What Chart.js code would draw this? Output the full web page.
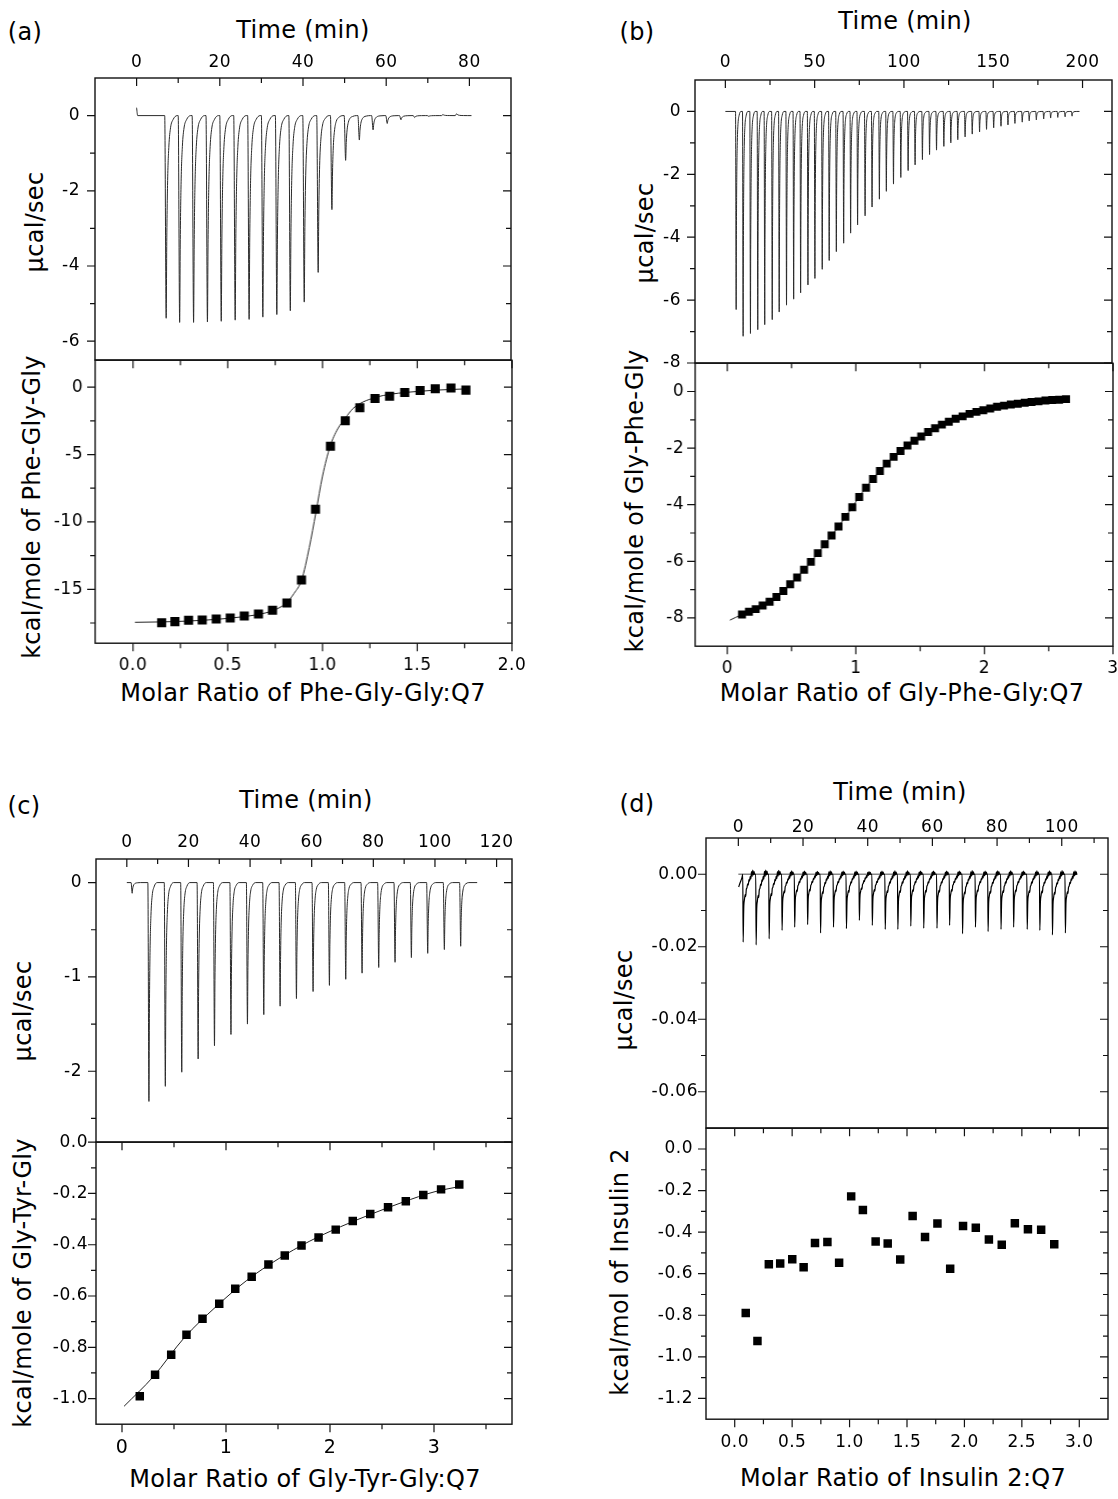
<!DOCTYPE html>
<html>
<head>
<meta charset="utf-8">
<title>ITC titrations with Q7</title>
<script src="https://cdn.jsdelivr.net/npm/chart.js@4.4.1/dist/chart.umd.min.js"></script>
<style>
  body { margin: 0; background: #fff; }
  #page { position: relative; width: 1118px; height: 1499px; overflow: hidden; background: #fff; }
  .box { position: absolute; }
  .t { position: absolute; font-family: "DejaVu Sans", sans-serif; font-size: 24px; line-height: 1; letter-spacing: 0.3px;
       white-space: nowrap; color: #000; transform: translate(-50%, -50%); }
  .t.r { transform: translate(-50%, -50%) rotate(-90deg); }
</style>
</head>
<body>
<div id="page">
  <div class="t" style="left:25px;top:32px">(a)</div>
  <div class="t" style="left:303px;top:30px">Time (min)</div>
  <div class="t r" style="left:35px;top:222px">µcal/sec</div>
  <div class="t r" style="left:32px;top:507px">kcal/mole of Phe-Gly-Gly</div>
  <div class="t" style="left:303px;top:693px">Molar Ratio of Phe-Gly-Gly:Q7</div>

  <div class="t" style="left:637px;top:32px">(b)</div>
  <div class="t" style="left:905px;top:21px">Time (min)</div>
  <div class="t r" style="left:645px;top:233px">µcal/sec</div>
  <div class="t r" style="left:635px;top:501px">kcal/mole of Gly-Phe-Gly</div>
  <div class="t" style="left:902px;top:693px">Molar Ratio of Gly-Phe-Gly:Q7</div>

  <div class="t" style="left:24px;top:806px">(c)</div>
  <div class="t" style="left:306px;top:800px">Time (min)</div>
  <div class="t r" style="left:23px;top:1011px">µcal/sec</div>
  <div class="t r" style="left:23px;top:1283px">kcal/mole of Gly-Tyr-Gly</div>
  <div class="t" style="left:305px;top:1479px">Molar Ratio of Gly-Tyr-Gly:Q7</div>

  <div class="t" style="left:637px;top:804px">(d)</div>
  <div class="t" style="left:900px;top:792px">Time (min)</div>
  <div class="t r" style="left:624px;top:1000px">µcal/sec</div>
  <div class="t r" style="left:620px;top:1272px">kcal/mol of Insulin 2</div>
  <div class="t" style="left:903px;top:1478px">Molar Ratio of Insulin 2:Q7</div>
</div>
<script>
// (a) Phe-Gly-Gly
const injTimeA = [6.76, 10.0, 13.35, 16.68, 20.0, 23.35, 26.7, 30.0, 33.36, 36.6, 39.95, 43.3, 46.6, 49.9, 53.2, 56.5, 59.9, 63.2, 66.5, 69.9, 73.3, 76.6];
const injDepthA = [-5.39, -5.50, -5.50, -5.49, -5.47, -5.44, -5.42, -5.36, -5.29, -5.19, -4.96, -4.17, -2.50, -1.19, -0.65, -0.38, -0.21, -0.11, -0.05, -0.02, 0.03, 0.05];
const leadA = [[0, 0.21], [0.25, 0]];
const endA = 80.5;
const ratioA = [0.151, 0.221, 0.293, 0.365, 0.439, 0.513, 0.587, 0.662, 0.736, 0.812, 0.889, 0.963, 1.042, 1.120, 1.197, 1.277, 1.354, 1.434, 1.515, 1.595, 1.678, 1.757];
const heatA = [-17.48, -17.40, -17.30, -17.28, -17.20, -17.13, -16.98, -16.83, -16.56, -16.01, -14.31, -9.06, -4.38, -2.50, -1.53, -0.84, -0.67, -0.40, -0.25, -0.12, -0.07, -0.22];
const fitRatioA = [0.01, 0.15, 0.30, 0.45, 0.60, 0.70, 0.76, 0.81, 0.85, 0.89, 0.93, 0.965, 1.00, 1.04, 1.08, 1.12, 1.16, 1.20, 1.26, 1.32, 1.40, 1.50, 1.60, 1.76];
const fitHeatA = [-17.45, -17.42, -17.35, -17.22, -17.0, -16.75, -16.45, -16.0, -15.3, -14.3, -11.9, -9.3, -6.6, -4.4, -3.1, -2.3, -1.6, -1.2, -0.85, -0.62, -0.45, -0.32, -0.22, -0.13];

// (b) Gly-Phe-Gly
const injTimeB = [5.7, 9.6, 13.7, 17.8, 21.7, 25.9, 29.8, 33.9, 37.9, 41.8, 45.9, 49.8, 53.9, 57.8, 61.8, 65.9, 69.8, 73.7, 77.9, 81.8, 85.9, 89.8, 93.8, 97.9,
  102.0, 105.9, 110.0, 114.0, 117.9, 122.0, 125.9, 129.8, 133.9, 137.9, 142.0, 145.9, 149.9, 154.0, 157.9, 161.8, 165.9, 169.8, 173.8, 177.9, 181.8, 185.8, 189.9, 193.8];
const injDepthB = [-6.30, -7.15, -7.06, -6.94, -6.78, -6.62, -6.38, -6.16, -5.97, -5.77, -5.52, -5.31, -5.02, -4.74, -4.46, -4.19, -3.87, -3.61, -3.32, -3.04, -2.79,
  -2.54, -2.31, -2.10, -1.88, -1.70, -1.53, -1.37, -1.23, -1.11, -1.00, -0.90, -0.81, -0.72, -0.65, -0.57, -0.52, -0.47, -0.43, -0.38, -0.34, -0.30, -0.27, -0.24, -0.21, -0.19, -0.17, -0.15];
const leadB = [[0, 0]];
const endB = 198.3;
const ratioB = [0.114, 0.168, 0.221, 0.275, 0.329, 0.382, 0.436, 0.489, 0.543, 0.597, 0.650, 0.704, 0.758, 0.811, 0.865, 0.918, 0.972, 1.026, 1.079, 1.133, 1.187, 1.240, 1.294, 1.347,
  1.401, 1.455, 1.508, 1.562, 1.616, 1.669, 1.723, 1.776, 1.830, 1.884, 1.937, 1.991, 2.045, 2.098, 2.152, 2.205, 2.259, 2.313, 2.366, 2.420, 2.474, 2.527, 2.581, 2.635];
const heatB = [-7.88, -7.78, -7.69, -7.56, -7.43, -7.26, -7.05, -6.81, -6.57, -6.30, -6.02, -5.71, -5.40, -5.09, -4.77, -4.43, -4.09, -3.73, -3.40, -3.09, -2.81, -2.55, -2.31, -2.10,
  -1.91, -1.74, -1.59, -1.43, -1.30, -1.17, -1.07, -0.96, -0.88, -0.79, -0.72, -0.66, -0.60, -0.54, -0.50, -0.46, -0.43, -0.40, -0.37, -0.35, -0.32, -0.30, -0.29, -0.27];
const fitRatioB = [0.02, 0.114, 0.226, 0.330, 0.434, 0.539, 0.643, 0.747, 0.852, 0.955, 1.059, 1.164, 1.268, 1.372, 1.477, 1.580, 1.684, 1.789, 1.893, 1.997, 2.102, 2.205, 2.309, 2.414, 2.518, 2.635];
const fitHeatB = [-8.08, -7.88, -7.68, -7.43, -7.06, -6.59, -6.06, -5.47, -4.85, -4.20, -3.51, -2.92, -2.41, -2.00, -1.67, -1.38, -1.14, -0.94, -0.78, -0.65, -0.54, -0.46, -0.40, -0.35, -0.30, -0.27];

// (c) Gly-Tyr-Gly
const injTimeC = [1.39, 6.83, 12.15, 17.48, 22.8, 28.1, 33.45, 38.8, 44.1, 49.4, 54.7, 60.1, 65.4, 70.7, 76.0, 81.4, 86.7, 92.0, 97.3, 102.7, 108.0];
const injDepthC = [-0.113, -2.32, -2.16, -2.01, -1.87, -1.73, -1.61, -1.50, -1.40, -1.31, -1.23, -1.155, -1.09, -1.025, -0.96, -0.90, -0.845, -0.795, -0.75, -0.71, -0.675];
const leadC = [[0, 0]];
const endC = 113.7;
const ratioC = [0.171, 0.318, 0.473, 0.620, 0.774, 0.935, 1.089, 1.247, 1.408, 1.565, 1.726, 1.890, 2.055, 2.219, 2.387, 2.558, 2.729, 2.897, 3.068, 3.243];
const heatC = [-0.991, -0.907, -0.829, -0.751, -0.689, -0.630, -0.572, -0.525, -0.477, -0.442, -0.403, -0.372, -0.341, -0.307, -0.280, -0.254, -0.230, -0.206, -0.184, -0.165];
const fitRatioC = [0.02, 0.3, 0.6, 0.9, 1.2, 1.5, 1.8, 2.1, 2.4, 2.7, 3.0, 3.27];
const fitHeatC = [-1.03, -0.915, -0.762, -0.643, -0.539, -0.456, -0.387, -0.330, -0.280, -0.234, -0.194, -0.171];

// (d) Insulin 2
const injTimeD = [1.37, 5.38, 9.4, 13.4, 17.3, 21.3, 25.3, 29.3, 33.3, 37.3, 41.3, 45.3, 49.2, 53.2, 57.2, 61.3, 65.2, 69.2, 73.2, 77.1, 81.1, 85.0, 89.2, 93.1, 97.0, 101.0];
const injDepthD = [-0.0187, -0.0195, -0.0178, -0.0155, -0.0146, -0.0139, -0.0162, -0.0146, -0.0150, -0.0127, -0.0141, -0.0152, -0.0152, -0.0143, -0.0149, -0.0149, -0.0141, -0.0164, -0.0146, -0.0158, -0.0152, -0.0146, -0.0152, -0.0155, -0.0167, -0.0162];
const leadD = [[0.1, -0.0035], [0.6, -0.0022], [1.1, -0.001]];
const endD = 104.8;
const baseD = [[0, 0], [104.8, 0]];
const ratioD = [0.096, 0.198, 0.297, 0.396, 0.501, 0.600, 0.699, 0.807, 0.909, 1.014, 1.116, 1.227, 1.332, 1.441, 1.549, 1.657, 1.765, 1.876, 1.988, 2.099, 2.213, 2.325, 2.439, 2.553, 2.668, 2.782];
const heatD = [-0.789, -0.924, -0.555, -0.551, -0.531, -0.569, -0.452, -0.447, -0.547, -0.228, -0.294, -0.445, -0.455, -0.532, -0.322, -0.424, -0.359, -0.576, -0.371, -0.379, -0.436, -0.461, -0.357, -0.386, -0.389, -0.458];

// injection peak outlines: [minutes after injection, share of peak depth]
const sharpShape = [[0, 0], [0.35, 1], [0.5, 0.6], [0.7, 0.32], [1.0, 0.15], [1.4, 0.06], [2.0, 0.02], [3.0, 0]];
const slowShape = [[0, 0], [0.12, 1], [0.3, 0.5], [0.5, 0.38], [0.75, 0.3], [0.9, 0.33], [1.1, 0.22], [1.3, 0.2], [1.5, 0.14], [1.7, 0.16],
  [1.9, 0.08], [2.1, 0.1], [2.3, 0.03], [2.5, 0.07], [2.7, -0.04], [2.9, 0.03], [3.1, -0.06], [3.3, 0.01], [3.5, -0.04], [3.65, 0]];

// tick values
const timeTicksA = [0, 20, 40, 60, 80], timeMinorA = [10, 30, 50, 70];
const powTicksA = [0, -2, -4, -6], powMinorA = [-1, -3, -5];
const ratioTicksA = [0, 0.5, 1, 1.5, 2], ratioMinorA = [0.25, 0.75, 1.25, 1.75];
const heatTicksA = [0, -5, -10, -15], heatMinorA = [-2.5, -7.5, -12.5, -17.5];

const timeTicksB = [0, 50, 100, 150, 200], timeMinorB = [25, 75, 125, 175];
const powTicksB = [0, -2, -4, -6, -8], powMinorB = [-1, -3, -5, -7];
const ratioTicksB = [0, 1, 2, 3], ratioMinorB = [0.5, 1.5, 2.5];
const heatTicksB = [0, -2, -4, -6, -8], heatMinorB = [-1, -3, -5, -7];

const timeTicksC = [0, 20, 40, 60, 80, 100, 120], timeMinorC = [10, 30, 50, 70, 90, 110];
const powTicksC = [0, -1, -2], powMinorC = [-0.5, -1.5, -2.5];
const ratioTicksC = [0, 1, 2, 3], ratioMinorC = [0.5, 1.5, 2.5, 3.5];
const heatTicksC = [0, -0.2, -0.4, -0.6, -0.8, -1.0], heatMinorC = [-0.1, -0.3, -0.5, -0.7, -0.9];

const timeTicksD = [0, 20, 40, 60, 80, 100], timeMinorD = [10, 30, 50, 70, 90, 110];
const powTicksD = [0, -0.02, -0.04, -0.06], powMinorD = [-0.01, -0.03, -0.05];
const ratioTicksD = [0, 0.5, 1, 1.5, 2, 2.5, 3], ratioMinorD = [0.25, 0.75, 1.25, 1.75, 2.25, 2.75];
const heatTicksD = [0, -0.2, -0.4, -0.6, -0.8, -1.0, -1.2], heatMinorD = [-0.1, -0.3, -0.5, -0.7, -0.9, -1.1];

const FONT = 'DejaVu Sans';

function trace(lead, times, depths, shape, end) {
  const out = lead.map(p => ({x: p[0], y: p[1]}));
  times.forEach((t, i) => {
    shape.forEach(s => out.push({x: t + s[0], y: depths[i] * s[1]}));
  });
  out.push({x: end, y: 0});
  return out;
}

function pairs(xs, ys) {
  return xs.map((x, i) => ({x, y: ys[i]}));
}

function lineSet(data, color, width) {
  return {data, showLine: true, pointRadius: 0, borderColor: color, borderWidth: width,
          cubicInterpolationMode: 'monotone', fill: false};
}

function squareSet(data, r) {
  return {data, showLine: false, pointStyle: 'rect', pointRadius: r, pointHoverRadius: r,
          backgroundColor: '#000', borderWidth: 0};
}

// frame + tick marks: outward on left/bottom, inward on top/right
function frameTicks(c) {
  return {
    id: 'frameTicks',
    beforeDraw(chart) {
      chart.ctx.letterSpacing = '0.5px';
    },
    afterDraw(chart) {
      const {ctx, chartArea: a} = chart;
      const sx = chart.scales.x, sy = chart.scales.y;
      ctx.save();
      ctx.strokeStyle = '#111';
      ctx.lineWidth = 1.4;
      ctx.strokeRect(a.left, a.top, a.right - a.left, a.bottom - a.top);
      ctx.lineWidth = 1.2;
      ctx.beginPath();
      const yMark = (v, len) => {
        const p = sy.getPixelForValue(v);
        ctx.moveTo(a.left - len, p); ctx.lineTo(a.left, p);
        ctx.moveTo(a.right - len, p); ctx.lineTo(a.right, p);
      };
      const xMark = (v, len) => {
        const p = sx.getPixelForValue(v);
        ctx.moveTo(p, a.top); ctx.lineTo(p, a.top + len);
        if (!c.top) { ctx.moveTo(p, a.bottom); ctx.lineTo(p, a.bottom + len); }
      };
      c.y.major.forEach(v => yMark(v, 8));
      c.y.minor.forEach(v => yMark(v, 5));
      c.x.major.forEach(v => xMark(v, 8));
      c.x.minor.forEach(v => xMark(v, 5));
      ctx.stroke();
      ctx.restore();
    }
  };
}

function axis(pos, a, fit) {
  return {
    type: 'linear', position: pos, min: a.min, max: a.max,
    grid: {display: false, drawTicks: false},
    border: {display: false},
    afterBuildTicks: s => { s.ticks = a.major.map(v => ({value: v})); },
    afterFit: s => { if (pos === 'left') s.width = fit; else s.height = fit; },
    ticks: {autoSkip: false, maxRotation: 0, minRotation: 0, padding: a.pad, color: '#000',
            font: {family: FONT, size: a.size || 17}, callback: v => v.toFixed(a.dec)}
  };
}

function place(box, l, t, w, h) {
  box.style.left = l + 'px';
  box.style.top = t + 'px';
  box.style.width = w + 'px';
  box.style.height = h + 'px';
}

function addChart(f, top, o) {
  const padL = 90, padR = 14, padT = top ? 60 : 14, padB = top ? 14 : 56;
  const y0 = top ? f.T : f.M, y1 = top ? f.M : f.B;
  const box = document.createElement('div');
  box.className = 'box';
  place(box, f.L - padL, y0 - padT, f.R - f.L + padL + padR, y1 - y0 + padT + padB);
  const cv = document.createElement('canvas');
  box.appendChild(cv);
  document.getElementById('page').appendChild(box);

  const chart = new Chart(cv, {
    type: 'scatter',
    data: {datasets: o.datasets},
    options: {
      responsive: true,
      maintainAspectRatio: false,
      animation: false,
      events: [],
      layout: {padding: {left: 0, right: padR, top: top ? 0 : padT, bottom: top ? padB : 0}},
      plugins: {legend: {display: false}, tooltip: {enabled: false}},
      scales: {
        x: axis(top ? 'top' : 'bottom', o.x, top ? padT : padB),
        y: axis('left', o.y, padL)
      }
    },
    plugins: [frameTicks({top, x: o.x, y: o.y})]
  });

  // move the canvas so that the plot area lands exactly on the frame
  for (let k = 0; k < 2; k++) {
    const a = chart.chartArea;
    const offL = a.left, offT = a.top, offR = chart.width - a.right, offB = chart.height - a.bottom;
    place(box, f.L - offL, y0 - offT, f.R - f.L + offL + offR, y1 - y0 + offT + offB);
    chart.resize();
  }
}

const frameA = {L: 95, R: 511, T: 78, M: 360, B: 643};
const frameB = {L: 695, R: 1112, T: 80, M: 363, B: 646};
const frameC = {L: 96, R: 512, T: 859, M: 1142, B: 1424};
const frameD = {L: 706, R: 1108, T: 838, M: 1128, B: 1419};

const TRACE = '#2a2a2a';

// (a)
addChart(frameA, true, {
  x: {min: -10, max: 90, major: timeTicksA, minor: timeMinorA, dec: 0, pad: 5},
  y: {min: -6.5, max: 1, major: powTicksA, minor: powMinorA, dec: 0, pad: 15},
  datasets: [lineSet(trace(leadA, injTimeA, injDepthA, sharpShape, endA), TRACE, 1)]
});
addChart(frameA, false, {
  x: {min: -0.2, max: 2.0, major: ratioTicksA, minor: ratioMinorA, dec: 1, pad: 12},
  y: {min: -19, max: 2, major: heatTicksA, minor: heatMinorA, dec: 0, pad: 12},
  datasets: [squareSet(pairs(ratioA, heatA), 6.4), lineSet(pairs(fitRatioA, fitHeatA), '#222', 1)]
});

// (b)
addChart(frameB, true, {
  x: {min: -17, max: 216.5, major: timeTicksB, minor: timeMinorB, dec: 0, pad: 7},
  y: {min: -8, max: 1, major: powTicksB, minor: powMinorB, dec: 0, pad: 14},
  datasets: [lineSet(trace(leadB, injTimeB, injDepthB, sharpShape, endB), TRACE, 1)]
});
addChart(frameB, false, {
  x: {min: -0.25, max: 3, major: ratioTicksB, minor: ratioMinorB, dec: 0, pad: 12.5},
  y: {min: -9, max: 1, major: heatTicksB, minor: heatMinorB, dec: 0, pad: 11},
  datasets: [squareSet(pairs(ratioB, heatB), 5.6), lineSet(pairs(fitRatioB, fitHeatB), '#222', 1)]
});

// (c)
addChart(frameC, true, {
  x: {min: -10, max: 125, major: timeTicksC, minor: timeMinorC, dec: 0, pad: 6.5},
  y: {min: -2.75, max: 0.25, major: powTicksC, minor: powMinorC, dec: 0, pad: 14},
  datasets: [lineSet(trace(leadC, injTimeC, injDepthC, sharpShape, endC), TRACE, 1)]
});
addChart(frameC, false, {
  x: {min: -0.25, max: 3.75, major: ratioTicksC, minor: ratioMinorC, dec: 0, pad: 12.5, size: 19},
  y: {min: -1.1, max: 0, major: heatTicksC, minor: heatMinorC, dec: 1, pad: 8},
  datasets: [squareSet(pairs(ratioC, heatC), 6), lineSet(pairs(fitRatioC, fitHeatC), '#222', 1)]
});

// (d)
addChart(frameD, true, {
  x: {min: -10, max: 114.3, major: timeTicksD, minor: timeMinorD, dec: 0, pad: 0},
  y: {min: -0.07, max: 0.01, major: powTicksD, minor: powMinorD, dec: 2, pad: 8},
  datasets: [
    lineSet(trace(leadD, injTimeD, injDepthD, slowShape, endD), '#000', 1.2),
    lineSet(baseD.map(p => ({x: p[0], y: p[1]})), '#888', 1.5)
  ]
});
addChart(frameD, false, {
  x: {min: -0.25, max: 3.25, major: ratioTicksD, minor: ratioMinorD, dec: 1, pad: 13},
  y: {min: -1.3, max: 0.1, major: heatTicksD, minor: heatMinorD, dec: 1, pad: 13},
  datasets: [squareSet(pairs(ratioD, heatD), 6)]
});
</script>
</body>
</html>
